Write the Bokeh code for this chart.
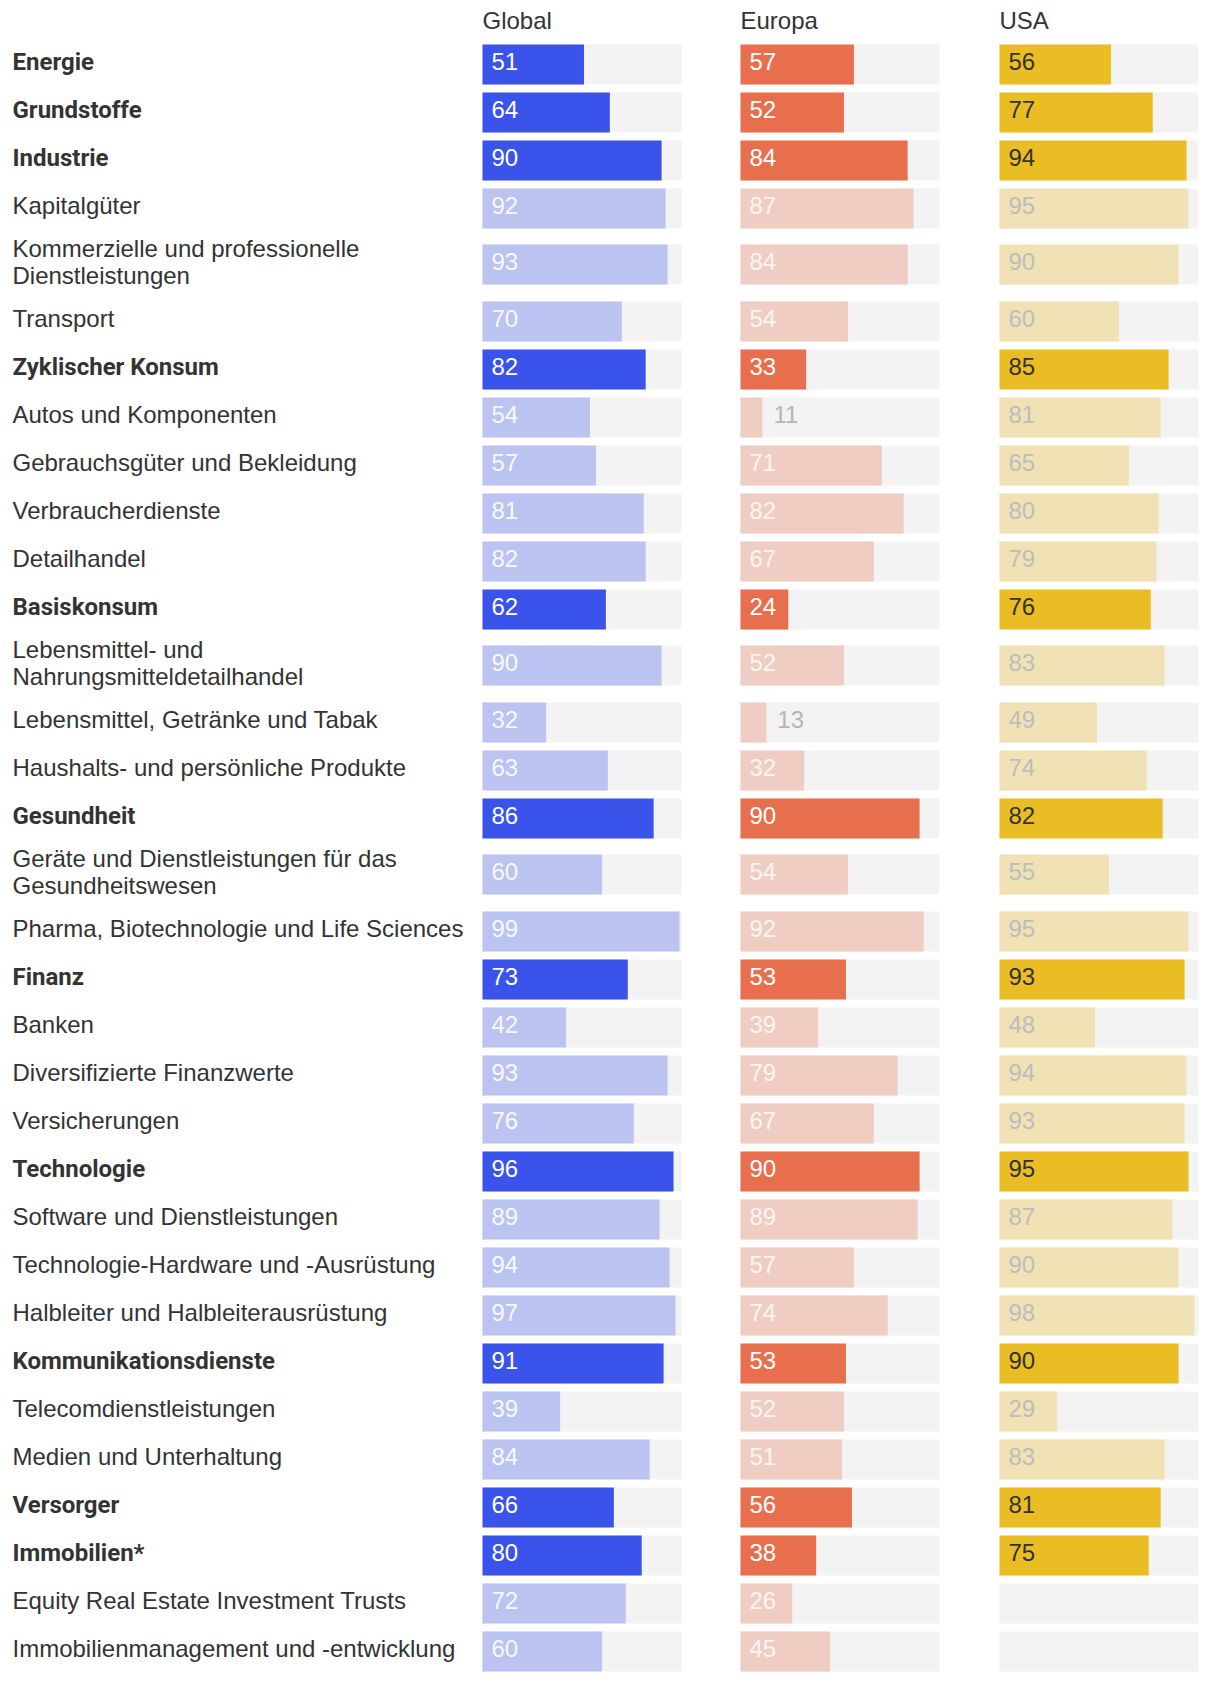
from bokeh.plotting import figure
from bokeh.models import Range1d, ColumnDataSource
from bokeh.core.properties import value
from bokeh.embed import file_html
from bokeh.resources import INLINE

# ---------------- data ----------------
labels = [
    "Energie", "Grundstoffe", "Industrie", "Kapitalgüter",
    "Kommerzielle und professionelle\nDienstleistungen", "Transport",
    "Zyklischer Konsum", "Autos und Komponenten", "Gebrauchsgüter und Bekleidung",
    "Verbraucherdienste", "Detailhandel", "Basiskonsum",
    "Lebensmittel- und\nNahrungsmitteldetailhandel", "Lebensmittel, Getränke und Tabak",
    "Haushalts- und persönliche Produkte", "Gesundheit",
    "Geräte und Dienstleistungen für das\nGesundheitswesen",
    "Pharma, Biotechnologie und Life Sciences", "Finanz", "Banken",
    "Diversifizierte Finanzwerte", "Versicherungen", "Technologie",
    "Software und Dienstleistungen", "Technologie-Hardware und -Ausrüstung",
    "Halbleiter und Halbleiterausrüstung", "Kommunikationsdienste",
    "Telecomdienstleistungen", "Medien und Unterhaltung", "Versorger",
    "Immobilien*", "Equity Real Estate Investment Trusts",
    "Immobilienmanagement und -entwicklung",
]
sectors = {"Energie", "Grundstoffe", "Industrie", "Zyklischer Konsum", "Basiskonsum",
           "Gesundheit", "Finanz", "Technologie", "Kommunikationsdienste",
           "Versorger", "Immobilien*"}
columns = ["Global", "Europa", "USA"]
global_vals = [51, 64, 90, 92, 93, 70, 82, 54, 57, 81, 82, 62, 90, 32, 63, 86, 60, 99,
               73, 42, 93, 76, 96, 89, 94, 97, 91, 39, 84, 66, 80, 72, 60]
europa_vals = [57, 52, 84, 87, 84, 54, 33, 11, 71, 82, 67, 24, 52, 13, 32, 90, 54, 92,
               53, 39, 79, 67, 90, 89, 57, 74, 53, 52, 51, 56, 38, 26, 45]
usa_vals = [56, 77, 94, 95, 90, 60, 85, 81, 65, 80, 79, 76, 83, 49, 74, 82, 55, 95,
            93, 48, 94, 93, 95, 87, 90, 98, 90, 29, 83, 81, 75, None, None]
series = [global_vals, europa_vals, usa_vals]

# ---------------- style / layout ----------------
W, H = 1212, 1680
col_x0 = [482, 740, 999]
track_w = 199
bar_h = 40
pitch = 48
double_extra = 17
dark = ["#3A53EB", "#E76F4D", "#EBBD24"]
light = ["#BBC3F0", "#F0CDC2", "#F1E2B6"]
num_dark = ["#FFFFFF", "#FFFFFF", "#333333"]
num_light = ["#F8F8FC", "#FBF5F2", "#BDBDBD"]
track_col = "#F3F3F3"
FONT = "Liberation Sans"
BOLD_FONT = "Roboto"
FS = "24px"

p = figure(width=W, height=H, output_backend="svg", toolbar_location=None,
           x_range=Range1d(0, W), y_range=Range1d(H, 0),
           min_border=0, min_border_left=0, min_border_right=0,
           min_border_top=0, min_border_bottom=0)
p.axis.visible = False
p.grid.visible = False
p.outline_line_color = None
p.background_fill_color = "white"
p.border_fill_color = "white"

# row positions
tops = []
y = 44
for lab in labels:
    if "\n" in lab:
        tops.append(y + 8)
        y += pitch + double_extra
    else:
        tops.append(y)
        y += pitch
centers = [t + bar_h / 2 for t in tops]

# headers
p.text(x=col_x0, y=[20] * 3, text=columns, text_font=value(FONT),
       text_font_size=value(FS), text_color="#333333",
       text_baseline="middle", text_align="left")

# labels
for bold in (True, False):
    xs, ys, ts = [], [], []
    for lab, c in zip(labels, centers):
        if (lab in sectors) == bold:
            xs.append(12)
            ys.append(c - 3)
            ts.append(lab)
    p.text(x=xs, y=ys, text=ts, text_font=value(BOLD_FONT if bold else FONT),
           text_font_size=value(FS),
           text_font_style="bold" if bold else "normal", text_color="#333333",
           text_baseline="middle", text_align="left", text_line_height=1.0)

# bars
for ci, vals in enumerate(series):
    x0 = col_x0[ci]
    # tracks
    p.quad(left=[x0] * len(labels), right=[x0 + track_w] * len(labels),
           top=tops, bottom=[t + bar_h for t in tops], fill_color=track_col,
           line_color=None)
    L, R, T, B, C = [], [], [], [], []
    tx, ty, tt, tc = [], [], [], []
    for lab, v, t, c in zip(labels, vals, tops, centers):
        if v is None:
            continue
        is_sec = lab in sectors
        L.append(x0)
        R.append(x0 + v / 100 * track_w)
        T.append(t)
        B.append(t + bar_h)
        C.append(dark[ci] if is_sec else light[ci])
        if v < 20:
            tx.append(x0 + v / 100 * track_w + 11)
            tc.append("#B5B5B5")
        else:
            tx.append(x0 + 9)
            tc.append(num_dark[ci] if is_sec else num_light[ci])
        ty.append(c - 3)
        tt.append(str(v))
    src = ColumnDataSource(dict(left=L, right=R, top=T, bottom=B, color=C))
    p.quad(left="left", right="right", top="top", bottom="bottom", fill_color="color",
           line_color=None, source=src)
    tsrc = ColumnDataSource(dict(x=tx, y=ty, text=tt, color=tc))
    p.text(x="x", y="y", text="text", text_color="color", source=tsrc,
           text_font=value(FONT), text_font_size=value(FS),
           text_baseline="middle", text_align="left")

open("out.html", "w").write(file_html(p, INLINE))
